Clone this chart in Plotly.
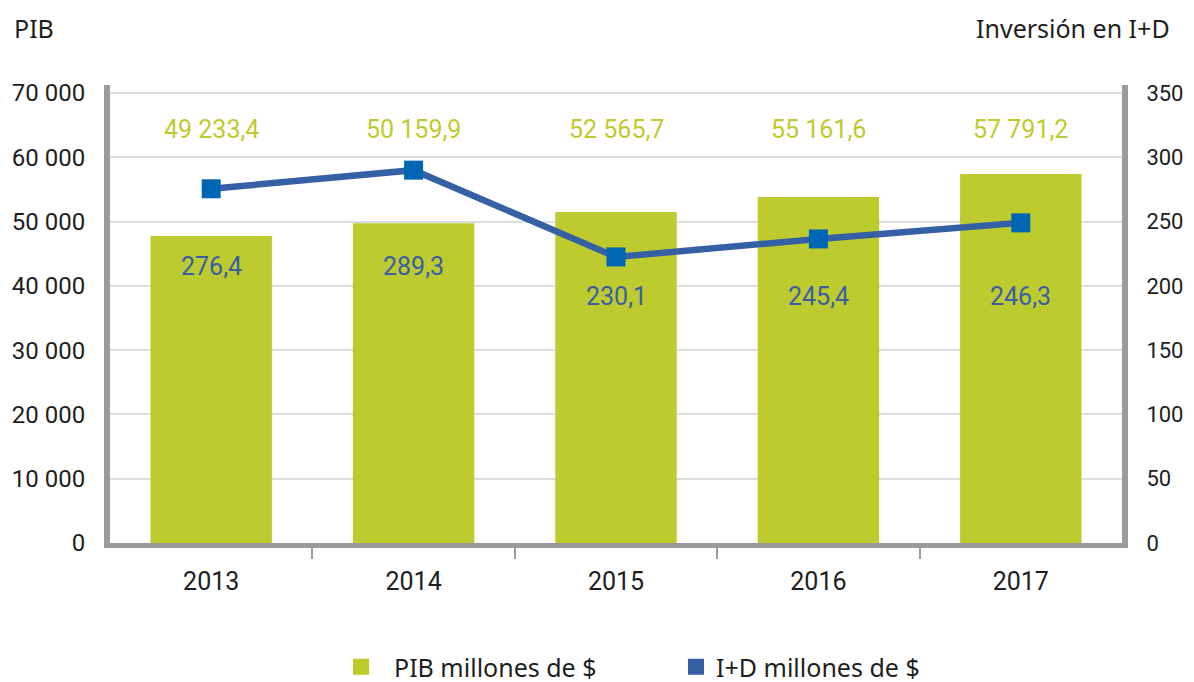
import plotly.graph_objects as go

years = [2013, 2014, 2015, 2016, 2017]
pib_values = [47750, 49730, 51490, 53820, 57400]
pib_labels = ["49 233,4", "50 159,9", "52 565,7", "55 161,6", "57 791,2"]
id_values = [275.5, 290.0, 222.5, 236.5, 249.0]
id_labels = ["276,4", "289,3", "230,1", "245,4", "246,3"]
y_ticks = [0, 10000, 20000, 30000, 40000, 50000, 60000, 70000]
y_ticktext = ["0", "10 000", "20 000", "30 000", "40 000", "50 000", "60 000", "70 000"]
y2_ticks = [0, 50, 100, 150, 200, 250, 300, 350]

GREEN = "#bdcb2e"
BLUE_LINE = "#3560a4"
BLUE_MARK = "#0066b3"
BLUE_TXT = "#3a5ea6"
GRAY = "#9b9a9f"
GRID = "#dcdce0"
TXT = "#1e1e1e"
FONT = "Roboto"
FONT2 = "Noto Sans"

# geometry (page body has an 8px margin, so the figure is 8px smaller)
OFF = 8
W, H = 1194 - OFF, 682 - OFF
M_L, M_R, M_T, M_B = 110 - OFF, 72, 85 - OFF, 139
PW, PH = W - M_L - M_R, H - M_T - M_B

# label vertical positions (data units)
pib_label_y = 64400
id_label_y = [43000, 43000, 38300, 38300, 38300]

fig = go.Figure()
fig.add_trace(go.Bar(
    x=years, y=pib_values, name="PIB millones de $",
    marker=dict(color=GREEN, line=dict(width=0)), width=0.6, showlegend=False,
))
fig.add_trace(go.Scatter(
    x=years, y=id_values, yaxis="y2", mode="lines+markers",
    line=dict(color=BLUE_LINE, width=6.5),
    marker=dict(symbol="square", size=19, color=BLUE_MARK),
    showlegend=False, cliponaxis=False,
))
# legend-only entries
fig.add_trace(go.Scatter(
    x=[None], y=[None], mode="markers", name="\u00a0\u00a0PIB millones de $",
    marker=dict(symbol="square", size=18, color=GREEN),
))
fig.add_trace(go.Scatter(
    x=[None], y=[None], yaxis="y2", mode="markers", name="I+D millones de $",
    marker=dict(symbol="square", size=18, color=BLUE_LINE),
))

annotations = []
for x, t in zip(years, pib_labels):
    annotations.append(dict(x=x, y=pib_label_y, xref="x", yref="y", text=t,
                            showarrow=False, font=dict(family=FONT, size=25, color=GREEN)))
for x, t, yy in zip(years, id_labels, id_label_y):
    annotations.append(dict(x=x, y=yy, xref="x", yref="y", text=t,
                            showarrow=False, font=dict(family=FONT, size=25, color=BLUE_TXT)))
title_y = 1 + (M_T - (28 - OFF)) / PH
annotations.append(dict(x=(12 - OFF - M_L) / PW, y=title_y, xref="paper", yref="paper",
                        xanchor="left", yanchor="middle", text="PIB", showarrow=False,
                        font=dict(family=FONT2, size=25, color=TXT)))
annotations.append(dict(x=(1172 - OFF - M_L) / PW, y=title_y, xref="paper", yref="paper",
                        xanchor="right", yanchor="middle",
                        text="Inversión en I+D", showarrow=False,
                        font=dict(family=FONT2, size=25, color=TXT)))

top_range = 70000 * 458 / 450
fig.update_layout(
    width=W, height=H,
    margin=dict(l=M_L, r=M_R, t=M_T, b=M_B, autoexpand=False),
    paper_bgcolor="white", plot_bgcolor="white",
    font=dict(family=FONT, size=24, color=TXT),
    xaxis=dict(
        range=[2012.5, 2017.5], tickvals=years, ticktext=[str(y) for y in years],
        ticks="", showgrid=False, zeroline=False, automargin=False,
        showline=True, linecolor=GRAY, linewidth=5,
        minor=dict(tickvals=[2013.5, 2014.5, 2015.5, 2016.5], ticks="outside",
                   ticklen=11, tickwidth=2, tickcolor=GRAY, showgrid=False),
        tickfont=dict(size=25, color=TXT), ticklabelstandoff=12,
    ),
    yaxis=dict(
        range=[0, top_range], tickvals=y_ticks, ticktext=y_ticktext,
        showgrid=True, gridcolor=GRID, gridwidth=2, zeroline=False, automargin=False,
        showline=True, linecolor=GRAY, linewidth=6,
        ticks="", tickfont=dict(size=24, color=TXT), ticklabelstandoff=14,
    ),
    yaxis2=dict(
        range=[0, 350 * 458 / 450], tickvals=y2_ticks, overlaying="y", side="right",
        showgrid=False, zeroline=False, automargin=False,
        showline=True, linecolor=GRAY, linewidth=6,
        ticks="", tickfont=dict(size=22, color=TXT), ticklabelstandoff=14,
    ),
    legend=dict(orientation="h", xref="container", x=(341 - OFF) / W, xanchor="left",
                yref="container", y=15 / H, yanchor="middle",
                font=dict(family=FONT2, size=25, color=TXT), itemwidth=30,
                entrywidth=290, tracegroupgap=0),
    annotations=annotations,
)

fig.write_html("out.html")
